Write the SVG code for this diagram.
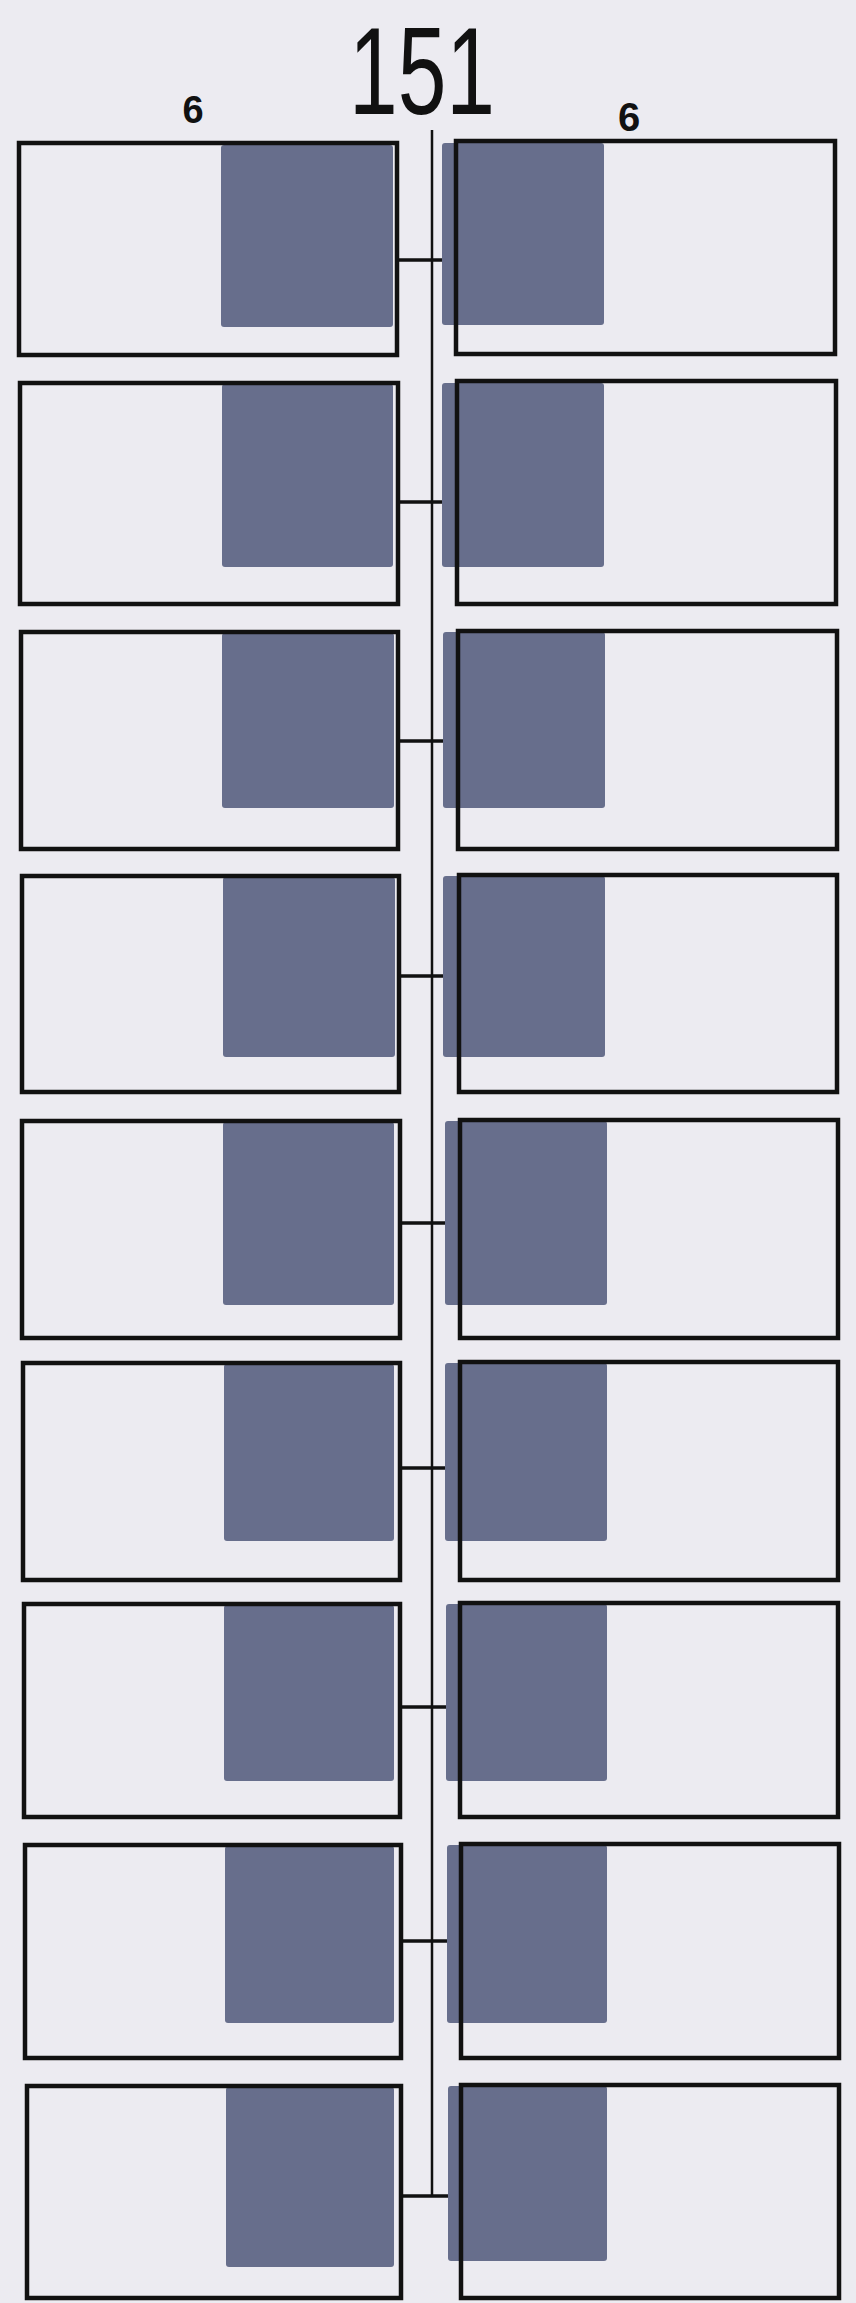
<svg xmlns="http://www.w3.org/2000/svg" width="856" height="2303" viewBox="0 0 856 2303">
<style>
.bg{fill:#ecebf1}
.box{fill:none;stroke:#111;stroke-width:4.5}
.ink{fill:#676e8c}
.line{stroke:#111;stroke-width:3.5;fill:none}
.spine{stroke:#111;stroke-width:2.5;fill:none}
.t{font-family:"Liberation Sans",Arial,sans-serif;fill:#111}
</style>
<rect class="bg" x="0" y="0" width="856" height="2303"/>
<text class="t" x="422" y="114" font-size="124" text-anchor="middle" textLength="146" lengthAdjust="spacingAndGlyphs">151</text>
<text class="t" x="193" y="123" font-size="38" font-weight="bold" text-anchor="middle">6</text>
<text class="t" x="629" y="131" font-size="40" font-weight="bold" text-anchor="middle">6</text>
<g id="connectors">
<line class="spine" x1="432" y1="130" x2="432" y2="2196"/>
<line class="line" x1="398" y1="260" x2="458" y2="260"/>
<line class="line" x1="398" y1="502" x2="458" y2="502"/>
<line class="line" x1="398" y1="741" x2="459" y2="741"/>
<line class="line" x1="399" y1="976" x2="459" y2="976"/>
<line class="line" x1="400" y1="1223" x2="460" y2="1223"/>
<line class="line" x1="400" y1="1468" x2="460" y2="1468"/>
<line class="line" x1="400" y1="1707" x2="460" y2="1707"/>
<line class="line" x1="401" y1="1941" x2="461" y2="1941"/>
<line class="line" x1="401" y1="2196" x2="461" y2="2196"/>
</g>
<g id="r1l"><rect class="ink" x="221" y="145" width="172" height="182" rx="3"/><rect class="box" x="19" y="143" width="378" height="212"/></g>
<g id="r1r"><rect class="ink" x="442" y="143" width="162" height="182" rx="3"/><rect class="box" x="456" y="141" width="379" height="213"/></g>
<g id="r2l"><rect class="ink" x="222" y="384" width="171" height="183" rx="3"/><rect class="box" x="20" y="383" width="378" height="221"/></g>
<g id="r2r"><rect class="ink" x="442" y="383" width="162" height="184" rx="3"/><rect class="box" x="457" y="381" width="379" height="223"/></g>
<g id="r3l"><rect class="ink" x="222" y="633" width="172" height="175" rx="3"/><rect class="box" x="21" y="632" width="377" height="217"/></g>
<g id="r3r"><rect class="ink" x="443" y="632" width="162" height="176" rx="3"/><rect class="box" x="458" y="631" width="379" height="218"/></g>
<g id="r4l"><rect class="ink" x="223" y="877" width="172" height="180" rx="3"/><rect class="box" x="22" y="876" width="377" height="216"/></g>
<g id="r4r"><rect class="ink" x="443" y="876" width="162" height="181" rx="3"/><rect class="box" x="459" y="875" width="378" height="217"/></g>
<g id="r5l"><rect class="ink" x="223" y="1122" width="171" height="183" rx="3"/><rect class="box" x="22" y="1121" width="378" height="217"/></g>
<g id="r5r"><rect class="ink" x="445" y="1121" width="162" height="184" rx="3"/><rect class="box" x="460" y="1120" width="378" height="218"/></g>
<g id="r6l"><rect class="ink" x="224" y="1364" width="170" height="177" rx="3"/><rect class="box" x="23" y="1363" width="377" height="217"/></g>
<g id="r6r"><rect class="ink" x="445" y="1363" width="162" height="178" rx="3"/><rect class="box" x="460" y="1362" width="378" height="218"/></g>
<g id="r7l"><rect class="ink" x="224" y="1605" width="170" height="176" rx="3"/><rect class="box" x="24" y="1604" width="376" height="213"/></g>
<g id="r7r"><rect class="ink" x="446" y="1604" width="161" height="177" rx="3"/><rect class="box" x="460" y="1603" width="378" height="214"/></g>
<g id="r8l"><rect class="ink" x="225" y="1846" width="169" height="177" rx="3"/><rect class="box" x="25" y="1845" width="376" height="213"/></g>
<g id="r8r"><rect class="ink" x="447" y="1845" width="160" height="178" rx="3"/><rect class="box" x="461" y="1844" width="378" height="214"/></g>
<g id="r9l"><rect class="ink" x="226" y="2087" width="168" height="180" rx="3"/><rect class="box" x="27" y="2086" width="374" height="212"/></g>
<g id="r9r"><rect class="ink" x="448" y="2086" width="159" height="175" rx="3"/><rect class="box" x="461" y="2085" width="378" height="213"/></g>
</svg>
